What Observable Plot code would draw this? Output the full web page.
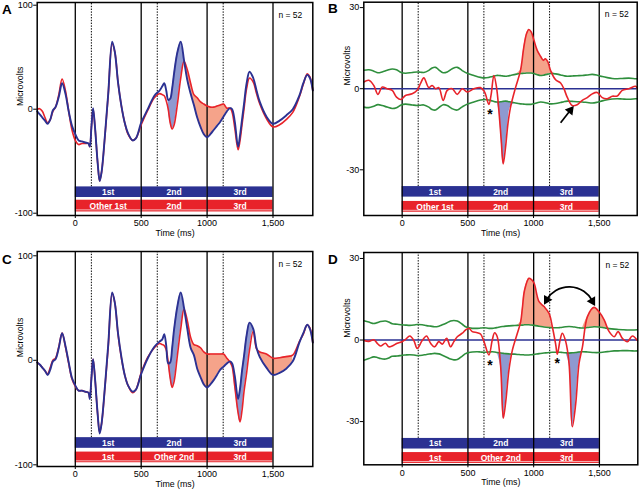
<!DOCTYPE html>
<html><head><meta charset="utf-8">
<script src="https://cdn.jsdelivr.net/npm/d3@7"></script>
<script src="https://cdn.jsdelivr.net/npm/@observablehq/plot@0.6"></script>
<style>
body{margin:0;background:#fff;font-family:"Liberation Sans",Arial,sans-serif;}
#fig{position:relative;width:640px;height:492px;overflow:hidden;}
.panel{position:absolute;}
.letter{position:absolute;font-weight:bold;font-size:13.5px;line-height:13.5px;color:#000;}
</style></head><body><div id="fig"></div>
<script>
// ---------- data ----------
const xTicks = [0, 500, 1000, 1500];
const xTickLabels = ["0", "500", "1000", "1,500"];
const yTicksAC = [-100, 0, 100];
const yTickLabelsAC = ["-100", "0", "100"];
const yTicksBD = [-30, 0, 30];
const yTickLabelsBD = ["-30", "0", "30"];
const segmentBounds = [0, 500, 1000, 1500];
const cueTimes = [122, 622, 1122];
const topBarLabels = ["1st", "2nd", "3rd"];
const bottomBarLabelsAB = ["Other 1st", "2nd", "3rd"];
const bottomBarLabelsCD = ["1st", "Other 2nd", "3rd"];
const nLabel = "n = 52";
const zeroLine = [0];

// Panels A and C: time grid (ms)
const timeAC = [
 -289,-270,-250,-230,-210,-190,-170,-150,-125,-100,
 -75,-50,-25,0,25,50,75,100,110,122,
 135,150,170,185,200,225,250,280,300,325,
 350,375,400,435,460,500,550,600,640,660,
 675,690,705,720,735,750,775,800,825,850,
 875,900,925,950,975,1000,1025,1050,1075,1100,
 1125,1150,1175,1190,1210,1235,1250,1265,1280,1300,
 1322,1350,1375,1400,1450,1500,1550,1600,1650,1700,
 1730,1760,1780,1802];
const blueA = [
 -2,-5,-8,-11,-14,-10,-1,2,12,25,
 15,-2,-16,-24,-30,-31,-32,-33,-36,-18,
 1,-18,-52,-69,-60,-25,15,65,55,25,
 3,-13,-23,-30,-28,-13,0,13,18,22,
 25,18,9,10,20,35,55,65,47,28,
 15,4,-8,-17,-24,-27,-24,-20,-16,-12,
 -7,-2,1,0,-12,-36,-25,-10,5,25,
 36,30,18,7,-7,-14,-11,-6,0,13,
 25,33,30,18];
const redA = [
 0,0.5,-2,-8,-13,-10,-2,2,14,29,
 18,-2,-20,-30,-34,-33,-33,-33,-36,-18,
 0,-18,-52,-69,-60,-26,14,63,55,25,
 3,-13,-24,-30,-28,-15,-1,11,15,14,
 13,8,0,-13,-19,-15,5,30,46,38,
 25,14,11,7,5,3,2,2,3,4,
 5,1,1,-3,-18,-39,-30,-15,0,20,
 30,26,15,5,-9,-17,-15,-10,-3,12,
 24,34,31,18];
const blueC = [
 -2,-4,-7,-10,-14,-9,-1,1,12,26,
 14,-2,-17,-24,-29,-29,-30,-31,-37,-18,
 1,-18,-52,-70,-60,-25,15,65,55,25,
 3,-14,-24,-30,-28,-13,2,13,18,20,
 25,14,-3,-2,12,30,52,65,50,30,
 12,5,-8,-16,-23,-26,-23,-19,-14,-9,
 -6,-3,-1,-3,-15,-37,-27,-10,4,24,
 36,30,12,3,-7,-14,-12,-8,-1,17,
 26,34,30,17];
const redC = [
 -2,-4,-7,-10,-13,-7,0,2,13,26,
 13,-3,-18,-25,-29,-29,-30,-31,-36,-18,
 1,-18,-52,-69,-60,-26,13,64,55,24,
 2,-14,-24,-31,-28,-12,3,12,16,15,
 14,10,-2,-17,-26,-20,5,30,49,38,
 22,15,14,12,8,6,6,6,6,6,
 6,2,-2,-6,-25,-50,-59,-48,-30,-12,
 10,28,11,8,6,2,2.5,3.5,5,18,
 25,34,31,17];

// Panel B: difference wave and bounds
const timeB = [
 -292,-254,-216,-185,-152,-114,-76,-43,-8,25,
 76,114,140,165,203,228,254,279,312,343,
 381,419,457,495,546,596,627,660,678,698,
 718,736,754,769,787,805,825,863,901,926,
 947,964,982,1003,1028,1053,1074,1091,1109,1129,
 1168,1206,1231,1256,1294,1332,1371,1409,1447,1485,
 1523,1561,1599,1637,1675,1726,1777,1789];
const diffB = [
 2.5,3.1,1.2,-2.1,0.6,0,-0.6,-3.1,-4,-2.5,
 -1.9,-0.6,2,4,0.4,1.2,0,0.4,-4.3,-0.6,
 0,-2.1,0,-1.2,0,0.4,-1.2,-5.8,-1.9,4.9,
 0.6,-8,-19,-27.8,-21.6,-13,-6.8,0.4,6.8,15.4,
 20.4,21.9,21,17.9,14.2,12,10.5,11.1,9.9,6.8,
 3.3,2.1,0,-3.1,-6.2,-5.9,-4.3,-3.3,-1.9,-1.4,
 -3.3,-3.7,-2.8,-2.7,-0.6,0,0.9,0.2];
const upperB = [
 6.8,7.0,6.5,5.9,6.2,6.8,7.3,7.0,6.0,5.7,
 6.0,6.2,6.1,6.0,6.8,7.7,7.9,7.0,5.9,6.2,
 7.4,7.9,6.7,5.7,4.9,4.2,4.0,4.2,4.4,4.7,
 4.9,4.9,4.8,4.7,4.6,4.7,4.9,5.3,5.6,5.7,
 5.8,5.8,5.8,5.6,5.2,4.9,5.0,5.2,5.4,5.6,
 5.5,5.1,4.8,4.6,4.7,4.8,4.9,5.1,5.3,5.0,
 4.5,4.1,3.8,3.7,3.8,3.9,3.7,3.7];
const lowerB = [
 -6.8,-7.0,-6.5,-5.9,-6.2,-6.8,-7.3,-7.0,-6.0,-5.7,
 -6.0,-6.2,-6.1,-6.0,-6.8,-7.7,-7.9,-7.0,-5.9,-6.2,
 -7.4,-7.9,-6.7,-5.7,-4.9,-4.2,-4.0,-4.2,-4.4,-4.7,
 -4.9,-4.9,-4.8,-4.7,-4.6,-4.7,-4.9,-5.3,-5.6,-5.7,
 -5.8,-5.8,-5.8,-5.6,-5.2,-4.9,-5.0,-5.2,-5.4,-5.6,
 -5.5,-5.1,-4.8,-4.6,-4.7,-4.8,-4.9,-5.1,-5.3,-5.0,
 -4.5,-4.1,-3.8,-3.7,-3.8,-3.9,-3.7,-3.7];

// Panel D
const timeD = [
 -292,-254,-216,-190,-165,-127,-102,-76,-38,0,
 25,58,89,114,152,185,216,246,279,305,
 338,368,393,419,457,482,508,533,571,596,
 622,660,685,703,723,749,769,789,812,838,
 876,901,914,931,964,982,1003,1041,1079,1117,
 1142,1168,1180,1201,1218,1244,1269,1294,1320,1345,
 1371,1409,1459,1497,1536,1574,1612,1642,1675,1713,
 1751,1789];
const diffD = [
 -0.2,-0.5,0.1,-1.2,-2.2,-1.2,-2.5,-2.2,-1.2,-0.6,
 0.2,1.5,-0.2,-3.1,-0.2,1.5,-1.2,-2.5,-0.6,-1.5,
 0.6,-2.5,-0.6,1.2,2.5,3.7,4.3,3.1,2.7,2.2,
 -0.6,-5.5,0,2.7,1.2,-9.8,-28.8,-22,-11,-3.7,
 2.5,6.7,11.7,18.4,22.7,22.3,20.9,14.1,12.3,9.8,
 4.9,-1.8,-5.2,0,2.5,-0.6,-8.6,-31.9,-23.3,-8.6,
 -2.5,8.6,12,10.4,7.4,3.1,1.2,3.1,0.6,-0.6,
 1.5,-0.2];
const upperD = [
 7.1,6.6,6.1,6.4,6.8,7.0,6.6,6.0,5.8,5.6,
 5.5,5.4,5.5,5.7,5.6,5.3,5.1,4.9,5.1,5.6,
 6.3,7.0,7.2,7.0,5.8,4.9,4.5,4.3,4.3,4.4,
 4.5,4.3,4.3,4.4,4.6,4.9,5.0,5.1,5.2,5.3,
 5.4,5.5,5.5,5.6,5.6,5.5,5.4,5.1,4.8,4.6,
 4.5,4.5,4.5,4.6,4.7,4.9,5.0,4.9,4.7,4.5,
 4.4,4.6,4.9,4.8,4.5,4.2,4.0,3.9,3.8,3.7,
 3.7,3.8];
const lowerD = [
 -7.4,-6.8,-6.2,-6.4,-6.8,-7.0,-6.6,-6.0,-5.9,-5.6,
 -5.5,-5.4,-5.5,-5.7,-5.6,-5.3,-5.1,-4.9,-5.1,-5.6,
 -6.3,-7.0,-7.3,-7.2,-5.9,-5.0,-4.6,-4.4,-4.3,-4.4,
 -4.5,-4.4,-4.3,-4.4,-4.6,-4.8,-4.9,-5.0,-5.1,-5.2,
 -5.3,-5.4,-5.4,-5.5,-5.5,-5.4,-5.3,-5.0,-4.8,-4.6,
 -4.5,-4.5,-4.5,-4.5,-4.6,-4.7,-4.8,-4.7,-4.6,-4.4,
 -4.3,-4.4,-4.6,-4.6,-4.4,-4.2,-4.0,-4.0,-3.9,-3.9,
 -4.0,-4.0];

// significance windows (ms)
const blueWinA = [[705, 825]];
const salmonWinA = [[825, 1190]];
const blueWinC = [[705, 825], [1175, 1375]];
const salmonWinC = [[825, 1175], [1375, 1650]];
const blueWinB = [[698, 863]];
const salmonWinB = [[863, 1206]];
const blueWinD = [[723, 876], [1244, 1371]];
const salmonWinD = [[876, 1168], [1371, 1612]];

// annotations
const starsB = [{t: 668, v: -8.6}];
const starsD = [{t: 668, v: -8.2}, {t: 1180, v: -7.6}];
const arrowB = [{x1: 1206, y1: -12.6, x2: 1282, y2: -7.9}];
const arrowHeadB = [{t: 1280, v: -8.0, angle: 38}];
const arcD = [{x1: 1100, y1: 15.0, x2: 1446, y2: 14.5}];
const arcHeadsD = [{t: 1100, v: 14.8, angle: -150}, {t: 1446, v: 14.3, angle: 150}];

// ---------- drawing ----------
const navy = "#2b3192", redC_ = "#e8232a", lightBlue = "#8e99d0", salmon = "#f5a38a", green = "#2f8f3d";
const font = "'Liberation Sans', Arial, sans-serif";
const curve = "catmull-rom";
const inWins = (wins) => (d) => wins.some(([a, b]) => d.t >= a && d.t <= b);

function commonMarks(cfg) {
  const top = topBarLabels.map((label, i) => ({x1: segmentBounds[i], x2: segmentBounds[i + 1], label}));
  const bot = cfg.bottomLabels.map((label, i) => ({x1: segmentBounds[i], x2: segmentBounds[i + 1], label}));
  const [bt1, bt2] = cfg.topBar, [bb1, bb2] = cfg.botBar;
  return {
    bars: [
      Plot.rect(top, {x1: "x1", x2: "x2", y1: bt1, y2: bt2, fill: navy}),
      Plot.rect(bot, {x1: "x1", x2: "x2", y1: bb1, y2: bb2, fill: redC_}),
      Plot.ruleY([bb2 + (bb1 - bb2) * 0.18], {x1: 0, x2: 1500, stroke: "white", strokeWidth: 0.8, strokeOpacity: 0.8}),
      Plot.text(top, {x: d => (d.x1 + d.x2) / 2, y: (bt1 + bt2) / 2, text: "label", fill: "white", fontWeight: "bold", fontSize: 8.5}),
      Plot.text(bot, {x: d => (d.x1 + d.x2) / 2, y: (bb1 + bb2) / 2, text: "label", fill: "white", fontWeight: "bold", fontSize: 8.5})
    ],
    rules: [
      Plot.ruleX(cueTimes, {y1: bt1, y2: cfg.yDom[1], stroke: "black", strokeWidth: 1, strokeDasharray: "1.4,1.4"}),
    ],
    solid: [Plot.ruleX(segmentBounds, {stroke: "black", strokeWidth: 1.3})],
    deco: [
      Plot.text([nLabel], {text: d => d, frameAnchor: "top-right", textAnchor: "end", lineAnchor: "middle", dx: -cfg.nDx, dy: cfg.nDy, fontSize: 8.5}),
      Plot.text(["Microvolts"], {text: d => d, y: cfg.labelY, frameAnchor: "left", dx: -17, rotate: -90, fontSize: 8.8}),
      Plot.text(["Time (ms)"], {text: d => d, frameAnchor: "bottom", dy: 20, fontSize: 8.8}),
      Plot.axisX({ticks: xTicks, tickFormat: d => xTickLabels[xTicks.indexOf(d)], tickSize: 3, tickPadding: 1.5, label: null, fontSize: 9}),
      Plot.axisY({ticks: cfg.yTicks, tickFormat: d => cfg.yLabels[cfg.yTicks.indexOf(d)], tickSize: 3.5, tickPadding: 1, label: null, fontSize: 9}),
      Plot.frame({stroke: "black", strokeWidth: 1.5})
    ]
  };
}

function panelAC(cfg) {
  const rows = cfg.time.map((t, i) => ({t, blue: cfg.blue[i], red: cfg.red[i]}));
  const c = commonMarks(cfg);
  const marks = [
    ...c.rules,
    ...cfg.blueWin.map(w => Plot.areaY(rows.filter(inWins([w])), {x: "t", y1: "red", y2: d => Math.max(d.red, d.blue), fill: lightBlue, curve})),
    ...cfg.salmonWin.map(w => Plot.areaY(rows.filter(inWins([w])), {x: "t", y1: "blue", y2: d => Math.max(d.red, d.blue), fill: salmon, curve})),
    ...c.bars,
    ...c.solid,
    Plot.line(rows, {x: "t", y: "red", stroke: redC_, strokeWidth: 1.6, curve}),
    Plot.line(rows, {x: "t", y: "blue", stroke: navy, strokeWidth: 1.9, curve}),
    ...c.deco
  ];
  return plotIt(cfg, marks);
}

function panelBD(cfg) {
  const rows = cfg.time.map((t, i) => ({t, diff: cfg.diff[i], up: cfg.upper[i], lo: cfg.lower[i]}));
  const c = commonMarks(cfg);
  const marks = [
    ...c.rules,
    ...cfg.salmonWin.map(w => Plot.areaY(rows.filter(inWins([w])), {x: "t", y1: "up", y2: d => Math.max(d.diff, d.up), fill: salmon, curve})),
    ...cfg.blueWin.map(w => Plot.areaY(rows.filter(inWins([w])), {x: "t", y1: "lo", y2: d => Math.min(d.diff, d.lo), fill: lightBlue, curve})),
    ...c.bars,
    ...c.solid,
    Plot.line(rows, {x: "t", y: "up", stroke: green, strokeWidth: 1.6, curve}),
    Plot.line(rows, {x: "t", y: "lo", stroke: green, strokeWidth: 1.6, curve}),
    Plot.ruleY(zeroLine, {stroke: navy, strokeWidth: 1.5}),
    Plot.line(rows, {x: "t", y: "diff", stroke: redC_, strokeWidth: 1.6, curve}),
    Plot.text(cfg.stars, {x: "t", y: "v", text: d => "*", fontSize: 14, fontWeight: "bold", dy: 3}),
    ...cfg.extra,
    Plot.dot(cfg.heads, {x: "t", y: "v", rotate: "angle", symbol: "triangle", r: 3.6, fill: "black", stroke: "none"}),
    ...c.deco
  ];
  return plotIt(cfg, marks);
}

function plotIt(cfg, marks) {
  return Plot.plot({
    width: 320, height: cfg.height,
    marginTop: cfg.mt, marginBottom: cfg.mb, marginLeft: cfg.ml, marginRight: cfg.mr,
    x: {domain: cfg.xDom},
    y: {domain: cfg.yDom},
    style: {fontFamily: font, fontSize: "9px", background: "transparent", color: "black"},
    marks
  });
}

const panels = [
  {letter: "A", left: 0, top: 0, lx: 2, ly: 3, kind: "AC", height: 246, mt: 2, mb: 31, ml: 36.7, mr: 7.7,
   xDom: [-289, 1802], yDom: [-102.2, 102.6], yTicks: yTicksAC, yLabels: yTickLabelsAC,
   time: timeAC, blue: blueA, red: redA, blueWin: blueWinA, salmonWin: salmonWinA,
   topBar: [-74.7, -84.9], botBar: [-87.5, -98.8], bottomLabels: bottomBarLabelsAB, labelY: 3, nDx: 10.5, nDy: 13},
  {letter: "B", left: 320, top: 0, lx: 8, ly: 2, kind: "BD", height: 246, mt: 1.7, mb: 31, ml: 43.3, mr: 3.3,
   xDom: [-292, 1789], yDom: [-46.9, 32], yTicks: yTicksBD, yLabels: yTickLabelsBD,
   time: timeB, diff: diffB, upper: upperB, lower: lowerB, blueWin: blueWinB, salmonWin: salmonWinB,
   topBar: [-36.2, -40.1], botBar: [-41.7, -45.7], bottomLabels: bottomBarLabelsAB, labelY: 1.2, nDx: 8.5, nDy: 12.5,
   stars: starsB, heads: arrowHeadB,
   extra: [Plot.link(arrowB, {x1: "x1", y1: "y1", x2: "x2", y2: "y2", stroke: "black", strokeWidth: 1.7})]},
  {letter: "C", left: 0, top: 246, lx: 2, ly: 7, kind: "AC", height: 246, mt: 5, mb: 26, ml: 36.7, mr: 7.7,
   xDom: [-289, 1802], yDom: [-101.6, 104.1], yTicks: yTicksAC, yLabels: yTickLabelsAC,
   time: timeAC, blue: blueC, red: redC, blueWin: blueWinC, salmonWin: salmonWinC,
   topBar: [-74, -84.2], botBar: [-87.8, -98], bottomLabels: bottomBarLabelsCD, labelY: 3, nDx: 10.5, nDy: 13},
  {letter: "D", left: 320, top: 246, lx: 8, ly: 7, kind: "BD", height: 246, mt: 6, mb: 27.7, ml: 43.3, mr: 2.7,
   xDom: [-292, 1792], yDom: [-45.9, 32.2], yTicks: yTicksBD, yLabels: yTickLabelsBD,
   time: timeD, diff: diffD, upper: upperD, lower: lowerD, blueWin: blueWinD, salmonWin: salmonWinD,
   stars: starsD, heads: arcHeadsD,
   topBar: [-36.2, -40.1], botBar: [-41.4, -45.4], bottomLabels: bottomBarLabelsCD, labelY: 0.8, nDx: 8.5, nDy: 13,
   extra: [
     Plot.arrow(arcD, {x1: "x1", y1: "y1", x2: "x2", y2: "y2", bend: 60, stroke: "black", strokeWidth: 1.7, headLength: 0})
   ]}
];

const fig = document.getElementById("fig");
for (const p of panels) {
  const div = document.createElement("div");
  div.className = "panel";
  div.style.left = p.left + "px";
  div.style.top = p.top + "px";
  div.appendChild(p.kind === "AC" ? panelAC(p) : panelBD(p));
  fig.appendChild(div);
  const L = document.createElement("div");
  L.className = "letter";
  L.style.left = (p.left + p.lx) + "px";
  L.style.top = (p.top + p.ly) + "px";
  L.textContent = p.letter;
  fig.appendChild(L);
}
</script></body></html>
